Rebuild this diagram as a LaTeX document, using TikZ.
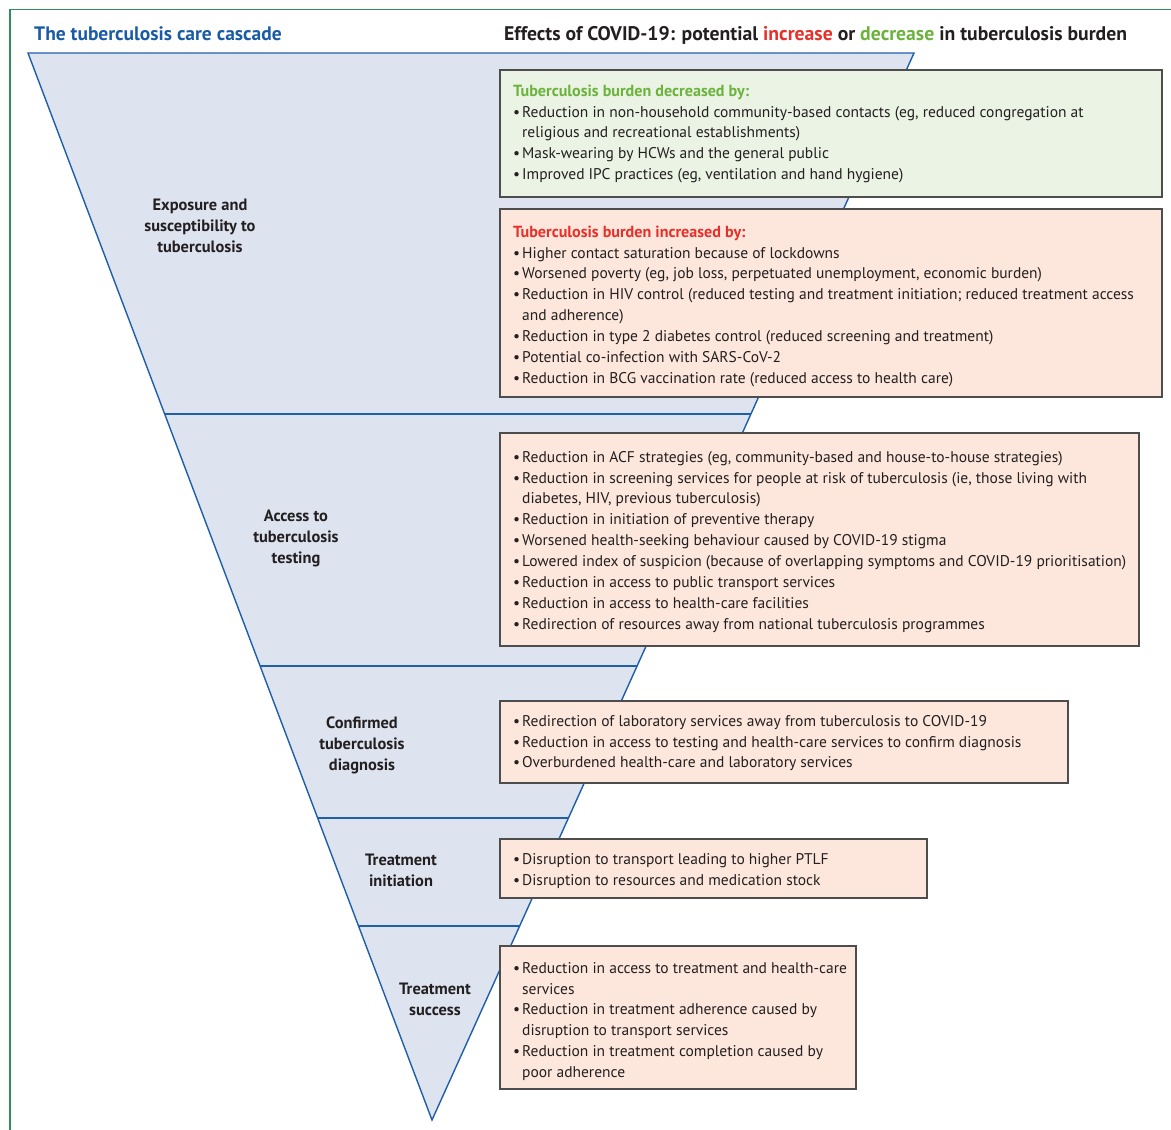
\documentclass[tikz,border=0pt]{standalone}
\usepackage{fontspec}
\setmainfont{PT Sans}
\usetikzlibrary{calc}
\definecolor{titleblue}{HTML}{1A5BA6}
\definecolor{triblue}{HTML}{1F5FAA}
\definecolor{trifill}{HTML}{DDE3EF}
\definecolor{framegreen}{HTML}{2F8F5B}
\definecolor{boxborder}{HTML}{4D4D4D}
\definecolor{greenfill}{HTML}{EBF3E4}
\definecolor{redfill}{HTML}{FDE7DC}
\definecolor{greentext}{HTML}{6BB33C}
\definecolor{redtext}{HTML}{E8302A}
\definecolor{darktext}{HTML}{231F20}
\newcommand\bu{\makebox[9pt][l]{•}}
\newcommand\ind{\hspace*{9pt}}
\newcommand\fs{\rule{0pt}{13.5pt}}
\newcommand\boxhead[2]{{\fontsize{16.1}{20.85}\selectfont\bfseries\textcolor{#1}{#2}}}
\tikzset{
  effectbox/.style={draw=boxborder, line width=1.3pt},
  bodytext/.style={anchor=north west, inner sep=0pt, align=left, text=darktext,
    font=\fontsize{15.5}{20.85}\selectfont},
  stagelabel/.style={anchor=north, inner sep=0pt, align=center, text=darktext,
    font=\fontsize{16.4}{20.85}\selectfont\bfseries},
  divider/.style={draw=triblue, line width=1.4pt},
}
\begin{document}
\begin{tikzpicture}[x=1pt, y=-1pt]
\useasboundingbox (0,0) rectangle (1171,1130);
% frame
\draw[framegreen, line width=1.3pt] (10,1130) -- (10,9.3) -- (1171,9.3);
% headers
\node[anchor=base west, inner sep=0pt, text=titleblue, font=\fontsize{19.5}{22}\selectfont\bfseries] (lefttitle) at (34,40.5) {The tuberculosis care cascade};
\node[anchor=base west, inner sep=0pt, text=darktext, font=\fontsize{19.7}{22}\selectfont\bfseries] (righttitle) at (504,40) {Effects of COVID-19: potential \textcolor{redtext}{increase} or \textcolor{greentext}{decrease} in tuberculosis burden};
% triangle
\coordinate (A) at (28,53);
\coordinate (B) at (914,53);
\coordinate (C) at (432,1120);
\fill[trifill] (A) -- (B) -- (C) -- cycle;
\foreach \t in {0.33833,0.57451,0.71696,0.81818}{
  \draw[divider] ($(A)!\t!(C)$) -- ($(B)!\t!(C)$);
}
\draw[triblue, line width=1.4pt, line join=miter] (A) -- (B) -- (C) -- cycle;
% stage labels
\node[stagelabel] (s1) at (200,197) {\fs Exposure and\\susceptibility to\\tuberculosis};
\node[stagelabel] (s2) at (296,508) {\fs Access to\\tuberculosis\\testing};
\node[stagelabel] (s3) at (362,715) {\fs Confirmed\\tuberculosis\\diagnosis};
\node[stagelabel] (s4) at (401,852) {\fs Treatment\\initiation};
\node[stagelabel] (s5) at (435,981) {\fs Treatment\\success};
% boxes
\draw[effectbox, fill=greenfill] (500,70) rectangle (1162,197);
\draw[effectbox, fill=redfill] (500,209) rectangle (1162,397);
\draw[effectbox, fill=redfill] (500,433) rectangle (1139,646);
\draw[effectbox, fill=redfill] (500,701) rectangle (1068,783);
\draw[effectbox, fill=redfill] (500,839) rectangle (927,898);
\draw[effectbox, fill=redfill] (500,946) rectangle (856,1089);
% box texts
\node[bodytext] (t1) at (513,82.5) {\fs\boxhead{greentext}{Tuberculosis burden decreased by:}\\
\bu Reduction in non-household community-based contacts (eg, reduced congregation at\\
\ind religious and recreational establishments)\\
\bu Mask-wearing by HCWs and the general public\\
\bu Improved IPC practices (eg, ventilation and hand hygiene)};
\node[bodytext] (t2) at (513,223.5) {\fs\boxhead{redtext}{Tuberculosis burden increased by:}\\
\bu Higher contact saturation because of lockdowns\\
\bu Worsened poverty (eg, job loss, perpetuated unemployment, economic burden)\\
\bu Reduction in HIV control (reduced testing and treatment initiation; reduced treatment access\\
\ind and adherence)\\
\bu Reduction in type 2 diabetes control (reduced screening and treatment)\\
\bu Potential co-infection with SARS-CoV-2\\
\bu Reduction in BCG vaccination rate (reduced access to health care)};
\node[bodytext] (t3) at (513,448.5) {\fs\bu Reduction in ACF strategies (eg, community-based and house-to-house strategies)\\
\bu Reduction in screening services for people at risk of tuberculosis (ie, those living with\\
\ind diabetes, HIV, previous tuberculosis)\\
\bu Reduction in initiation of preventive therapy\\
\bu Worsened health-seeking behaviour caused by COVID-19 stigma\\
\bu Lowered index of suspicion (because of overlapping symptoms and COVID-19 prioritisation)\\
\bu Reduction in access to public transport services\\
\bu Reduction in access to health-care facilities\\
\bu Redirection of resources away from national tuberculosis programmes};
\node[bodytext] (t4) at (513,712.5) {\fs\bu Redirection of laboratory services away from tuberculosis to COVID-19\\
\bu Reduction in access to testing and health-care services to confirm diagnosis\\
\bu Overburdened health-care and laboratory services};
\node[bodytext] (t5) at (513,850.5) {\fs\bu Disruption to transport leading to higher PTLF\\
\bu Disruption to resources and medication stock};
\node[bodytext] (t6) at (513,959.5) {\fs\bu Reduction in access to treatment and health-care\\
\ind services\\
\bu Reduction in treatment adherence caused by\\
\ind disruption to transport services\\
\bu Reduction in treatment completion caused by\\
\ind poor adherence};
\end{tikzpicture}
\end{document}
